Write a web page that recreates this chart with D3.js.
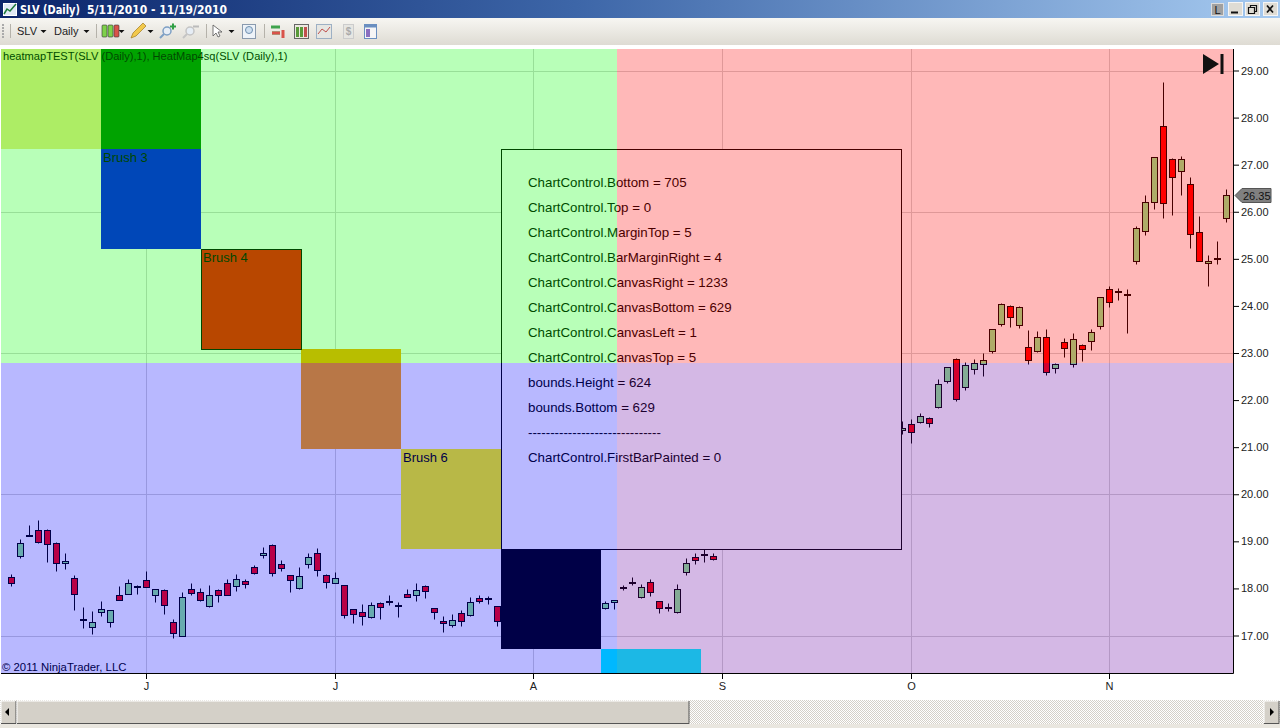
<!DOCTYPE html>
<html><head><meta charset="utf-8">
<script src="https://cdn.jsdelivr.net/npm/d3@7"></script>
<style>
html,body{margin:0;padding:0;background:#fff;overflow:hidden}
svg{display:block}
text{font-family:"Liberation Sans",Arial,sans-serif}
</style></head><body>
<svg id="c" width="1280" height="728" xmlns="http://www.w3.org/2000/svg"></svg>
<script>
// bar number of each visible candle (the others are covered by the panel and the black square)
const barIndex = [...d3.range(0,55), ...d3.range(66,79), ...d3.range(99,136)];
const opens = [18.25,18.69,19.14,19.24,19.24,18.97,18.54,18.22,17.35,17.18,17.50,17.28,17.86,17.88,18.05,18.18,17.86,17.97,17.29,16.99,17.99,17.93,17.62,17.97,18.12,18.05,18.16,18.46,18.71,18.93,18.52,18.29,18.01,18.52,18.76,18.29,18.11,18.08,17.57,17.50,17.39,17.69,17.73,17.64,17.89,17.86,18.05,17.59,17.31,17.22,17.48,17.43,17.80,17.79,17.63,
 17.59,17.72,18.03,18.13,17.81,18.14,17.74,17.60,17.50,18.35,18.67,18.73,18.69,
 21.37,21.50,21.54,21.62,21.86,22.40,22.88,22.28,22.66,22.77,23.04,23.62,24.00,23.60,23.13,23.04,23.34,22.68,23.24,22.77,23.17,23.26,23.58,24.36,24.31,24.26,24.96,25.60,26.20,27.83,27.12,26.87,26.59,25.57,24.92,25.01,25.87];
const highs = [18.30,19.04,19.34,19.46,19.27,18.99,18.76,18.29,17.61,17.52,17.74,17.55,18.06,18.20,18.08,18.36,17.99,17.99,17.34,17.93,18.12,18.01,18.08,17.99,18.20,18.31,18.20,18.50,18.89,18.95,18.61,18.29,18.46,18.76,18.86,18.31,18.34,18.08,17.57,17.66,17.72,17.72,17.86,17.72,17.98,18.12,18.08,17.59,17.42,17.45,17.55,17.82,17.86,17.84,17.63,
 17.74,17.76,18.08,18.25,18.10,18.20,17.74,17.69,18.10,18.65,18.76,18.84,18.76,
 21.55,21.59,21.73,21.65,22.44,22.71,22.90,22.81,22.88,23.00,23.51,24.07,24.02,24.00,23.49,23.46,23.51,22.79,23.32,23.43,23.20,23.51,24.19,24.43,24.38,24.36,25.69,26.36,27.17,28.75,27.15,27.19,26.74,25.92,25.09,25.37,26.49];
const lows = [18.05,18.64,19.11,18.97,18.57,18.37,18.42,17.55,17.16,17.04,17.41,17.18,17.75,17.88,17.88,18.02,17.71,17.45,16.94,16.98,17.86,17.73,17.60,17.71,17.86,17.94,18.01,18.30,18.64,18.27,18.36,17.93,17.99,18.44,18.26,18.01,18.11,17.37,17.26,17.23,17.37,17.34,17.64,17.40,17.81,17.74,17.79,17.36,17.07,17.18,17.21,17.41,17.69,17.66,17.21,
 17.57,17.57,17.96,18.07,17.80,17.84,17.47,17.51,17.48,18.28,18.51,18.56,18.60,
 21.28,21.08,21.52,21.42,21.83,22.36,21.98,22.21,22.55,22.51,23.00,23.57,23.55,23.53,22.76,23.02,22.53,22.57,22.91,22.70,22.84,23.06,23.52,23.97,24.12,23.42,24.89,25.50,26.05,25.86,25.93,26.35,25.23,24.95,24.43,24.89,25.79];
const closes = [18.12,18.97,19.12,18.98,18.95,18.54,18.59,17.88,17.35,17.29,17.57,17.54,17.75,18.12,18.05,18.03,17.99,17.64,17.06,17.82,17.90,17.75,17.86,17.86,17.86,18.20,18.09,18.33,18.76,18.33,18.43,18.18,18.27,18.67,18.39,18.14,18.22,17.43,17.46,17.41,17.65,17.60,17.73,17.64,17.81,17.97,17.94,17.50,17.27,17.33,17.30,17.72,17.73,17.79,17.30,
 17.69,17.76,18.03,18.13,18.03,17.93,17.59,17.60,17.99,18.54,18.60,18.73,18.62,
 21.41,21.33,21.67,21.52,22.35,22.71,22.03,22.75,22.79,22.86,23.51,24.04,23.77,23.98,22.85,23.34,22.60,22.77,23.10,23.30,23.08,23.45,24.19,24.09,24.31,24.26,25.65,26.20,27.17,26.18,26.74,27.12,25.53,24.96,24.96,25.01,26.36];
const lastPrice = 26.35;
const priceTicks = d3.range(17,30);
const gridPrices = [17,20,23,26,29];
const monthBars = [15,36,58,79,100,122];
const monthLabels = ["J","J","A","S","O","N"];
const brushNames = {2:"Brush 3",3:"Brush 4",5:"Brush 6"};
const brushFills = ["#f0e68c","#008000","#0000ff","#ff0000","#ffa500","#ffff00","#000000","#00ffff"];
const brushCols = [0,1,1,2,3,4,5,6];
const brushRows = [0,0,1,2,3,4,5,6];
const panelLines = ["ChartControl.Bottom = 705","ChartControl.Top = 0","ChartControl.MarginTop = 5","ChartControl.BarMarginRight = 4","ChartControl.CanvasRight = 1233","ChartControl.CanvasBottom = 629","ChartControl.CanvasLeft = 1","ChartControl.CanvasTop = 5","bounds.Height = 624","bounds.Bottom = 629","------------------------------","ChartControl.FirstBarPainted = 0"];

const svg = d3.select("#c");
const defs = svg.append("defs");
const tg = defs.append("linearGradient").attr("id","tb");
[["0","#0a246a"],["0.45","#3d66a8"],["1","#a6caf0"]].forEach(s=>tg.append("stop").attr("offset",s[0]).attr("stop-color",s[1]));
const bg = defs.append("linearGradient").attr("id","tool").attr("x2",0).attr("y2",1);
[["0","#f7f6f2"],["1","#dedbd3"]].forEach(s=>bg.append("stop").attr("offset",s[0]).attr("stop-color",s[1]));
const pt = defs.append("pattern").attr("id","dots").attr("width",2).attr("height",2).attr("patternUnits","userSpaceOnUse");
pt.append("rect").attr("width",2).attr("height",2).attr("fill","#ffffff");
pt.append("rect").attr("width",1).attr("height",1).attr("fill","#d4d0c8");
pt.append("rect").attr("x",1).attr("y",1).attr("width",1).attr("height",1).attr("fill","#d4d0c8");
defs.append("clipPath").attr("id","plot").append("rect").attr("x",1).attr("y",49).attr("width",1232).attr("height",624);

const x = d3.scaleLinear().domain([0,135]).range([11.5,1226.5]);
const y = d3.scaleLinear().domain([17,29]).range([635.5,70.5]);
const sx = d3.scaleLinear().domain([0,1]).range([1,101]);
const sy = d3.scaleLinear().domain([0,1]).range([49,149]);
const py = v => Math.round(y(v))+0.5;

// window chrome
svg.append("rect").attr("width",1280).attr("height",18).attr("fill","url(#tb)");
svg.append("rect").attr("y",18).attr("width",1280).attr("height",27).attr("fill","url(#tool)");
svg.append("rect").attr("x",3.5).attr("y",3.5).attr("width",13).attr("height",12).attr("fill","#dfe8f5").attr("stroke","#fff");
svg.append("path").attr("d","M4 14L7 9L10 11L16 4").attr("fill","none").attr("stroke","#1d7a3a").attr("stroke-width",1.5);
svg.append("text").attr("x",20).attr("y",14).attr("fill","#fff").attr("font-weight","bold").attr("font-size",12).style("font-family",'"DejaVu Sans"').attr("textLength",60).attr("lengthAdjust","spacingAndGlyphs").text("SLV (Daily)");
svg.append("text").attr("x",87).attr("y",14).attr("fill","#fff").attr("font-weight","bold").attr("font-size",12).style("font-family",'"DejaVu Sans"').attr("textLength",140).attr("lengthAdjust","spacingAndGlyphs").text("5/11/2010 - 11/19/2010");
// window buttons
svg.append("rect").attr("x",1211.5).attr("y",3.5).attr("width",12).attr("height",12).attr("fill","#a0a0a0").attr("stroke","#ddd");
svg.append("text").attr("x",1217.5).attr("y",14).attr("text-anchor","middle").attr("font-size",11).attr("fill","#111").text("L");
[1228,1245,1263].forEach(px=>svg.append("rect").attr("x",px+.5).attr("y",2.5).attr("width",14).attr("height",13).attr("fill","#dfdcd4").attr("stroke","#f5f5f5"));
svg.append("path").attr("d","M1231 12.5h7").attr("stroke","#111").attr("stroke-width",2);
svg.append("path").attr("d","M1248.5 7.5h6v6h-6zM1250.5 7.5v-2h6v6h-2").attr("fill","none").attr("stroke","#111").attr("stroke-width",1.2);
svg.append("path").attr("d","M1267 5.5l6 7M1273 5.5l-6 7").attr("stroke","#111").attr("stroke-width",1.7);
// toolbar
[[17,"SLV"],[54,"Daily"]].forEach(t=>svg.append("text").attr("x",t[0]).attr("y",35).attr("font-size",11).attr("fill","#222").text(t[1]));
[43,86,121,150,231].forEach(px=>svg.append("path").attr("d",`M${px-2.5} 30h6l-3 3z`).attr("fill","#111"));
[10,96,206,264].forEach(px=>svg.append("line").attr("x1",px+.5).attr("x2",px+.5).attr("y1",24).attr("y2",38).attr("stroke","#b5b2aa"));
svg.append("path").attr("d","M3 24v14").attr("stroke","#aaa").attr("stroke-width",2).attr("stroke-dasharray","2 1");
[[102,"#7ed14a"],[108,"#7ed14a"],[114,"#d9534a"]].forEach(c=>svg.append("rect").attr("x",c[0]).attr("y",25).attr("width",5).attr("height",12).attr("rx",1).attr("fill",c[1]).attr("stroke","#333").attr("stroke-width",.6));
svg.append("path").attr("d","M131 38l2-5 10-10 3 3-10 10z").attr("fill","#f2c94c").attr("stroke","#a07a20").attr("stroke-width",.7);
[[167,"#7d9fc4"],[190,"#c4c4c4"]].forEach(c=>{svg.append("circle").attr("cx",c[0]).attr("cy",31).attr("r",4).attr("fill","#e6edf5").attr("stroke",c[1]).attr("stroke-width",1.5);
  svg.append("line").attr("x1",c[0]-3).attr("y1",34).attr("x2",c[0]-7).attr("y2",38).attr("stroke",c[1]).attr("stroke-width",2);});
svg.append("path").attr("d","M170 26.5h6M173 23.5v6").attr("stroke","#2f9e44").attr("stroke-width",2);
svg.append("path").attr("d","M193 26.5h6").attr("stroke","#bbb").attr("stroke-width",2);
svg.append("path").attr("d","M213 25v11l3-3 2 4 2-1-2-4h4z").attr("fill","#fff").attr("stroke","#555").attr("stroke-width",.8);
svg.append("rect").attr("x",242.5).attr("y",24.5).attr("width",13).attr("height",14).attr("fill","#eef3f8").attr("stroke","#8a9aae");
svg.append("circle").attr("cx",249).attr("cy",30).attr("r",3.5).attr("fill","#cfe0f0").attr("stroke","#6f8faf");
svg.append("rect").attr("x",294.5).attr("y",24.5).attr("width",14).attr("height",14).attr("fill","#ece9e0").attr("stroke","#666");
svg.append("rect").attr("x",316.5).attr("y",24.5).attr("width",15).attr("height",14).attr("fill","#e6e6e2").attr("stroke","#9db0c4");
svg.append("rect").attr("x",343.5).attr("y",24.5).attr("width",10).attr("height",14).attr("fill","#e6e6e2").attr("stroke","#ccc");
svg.append("text").attr("x",348.5).attr("y",35).attr("text-anchor","middle").attr("font-size",10).attr("font-weight","bold").attr("fill","#aaa").text("$");
svg.append("rect").attr("x",364.5).attr("y",24.5).attr("width",12).attr("height",14).attr("fill","#f5f5f5").attr("stroke","#6a8fc0");
svg.append("rect").attr("x",364.5).attr("y",24.5).attr("width",12).attr("height",3).attr("fill","#6a8fc0");
svg.append("path").attr("d","M271 27h9M272 33h8").attr("stroke","#3fa34d").attr("stroke-width",3);
svg.append("path").attr("d","M272 33h8").attr("stroke","#d9534a").attr("stroke-width",3);
svg.append("path").attr("d","M283 30v8").attr("stroke","#d9534a").attr("stroke-width",3);
svg.append("path").attr("d","M297.5 27v10M301.5 27v10").attr("stroke","#5a9a3a").attr("stroke-width",3);
svg.append("path").attr("d","M305.5 27v10").attr("stroke","#c0504d").attr("stroke-width",3);
svg.append("path").attr("d","M318 34l4-5 4 3 4-5").attr("stroke","#c0504d").attr("fill","none");
svg.append("rect").attr("x",366).attr("y",29).attr("width",4).attr("height",8).attr("fill","#8a6fc0");

// chart canvas
const plot = svg.append("g").attr("clip-path","url(#plot)");
plot.append("rect").attr("x",1).attr("y",49).attr("width",1232).attr("height",624).attr("fill","#fff");
const grid = plot.append("g").attr("stroke","#d3d3d3").attr("stroke-width",1);
grid.selectAll(".h").data(gridPrices).join("line").attr("x1",1).attr("x2",1233).attr("y1",py).attr("y2",py);
grid.selectAll(".v").data(monthBars).join("line").attr("x1",x).attr("x2",x).attr("y1",49).attr("y2",673);

// candles
const bars = barIndex.map((b,i)=>({b,o:opens[i],h:highs[i],l:lows[i],c:closes[i]}));
const cg = plot.append("g").selectAll("g").data(bars).join("g");
cg.append("line").attr("x1",d=>x(d.b)).attr("x2",d=>x(d.b)).attr("y1",d=>py(d.h)).attr("y2",d=>py(d.l)).attr("stroke","#000");
cg.append("rect").attr("x",d=>x(d.b)-3).attr("width",6)
  .attr("y",d=>py(Math.max(d.o,d.c)))
  .attr("height",d=>Math.max(1,py(Math.min(d.o,d.c))-py(Math.max(d.o,d.c))))
  .attr("fill",d=>d.c>d.o?"#90ee90":(d.c<d.o?"#ff0000":"#000"))
  .attr("stroke","#000").attr("stroke-width",1);

// panel and brush squares, all painted beneath the translucent quadrants
plot.append("rect").attr("x",501).attr("y",149).attr("width",401).attr("height",401).attr("fill","#fff");
plot.append("g").selectAll("rect").data(brushFills).join("rect")
  .attr("x",(d,i)=>sx(brushCols[i])).attr("y",(d,i)=>sy(brushRows[i]))
  .attr("width",100).attr("height",100).attr("fill",d=>d);
plot.append("rect").attr("x",201.5).attr("y",249.5).attr("width",100).attr("height",100).attr("fill","none").attr("stroke","#000");
plot.append("rect").attr("x",501.5).attr("y",149.5).attr("width",400).attr("height",400).attr("fill","none").attr("stroke","#000");
plot.selectAll(".brush").data(Object.keys(brushNames)).join("text")
  .attr("x",k=>sx(brushCols[k])+2).attr("y",k=>sy(brushRows[k])+13).attr("font-size",13).attr("fill","#000").text(k=>brushNames[k]);
plot.selectAll(".pl").data(panelLines).join("text").attr("x",528).attr("y",(d,i)=>187+i*25).attr("font-size",13.3).attr("fill","#000").text(d=>d);
plot.append("text").attr("x",3).attr("y",60).attr("font-size",11.1).attr("fill","#000").text("heatmapTEST(SLV (Daily),1), HeatMap4sq(SLV (Daily),1)");
plot.append("text").attr("x",2).attr("y",671).attr("font-size",11.35).attr("fill","#000").text("© 2011 NinjaTrader, LLC");

// translucent quadrants
[[1,49,616,314,"0,255,0"],[617,49,616,314,"255,0,0"],[1,363,616,310,"0,0,255"],[617,363,616,310,"100,0,160"]].forEach(q=>
  plot.append("rect").attr("x",q[0]).attr("y",q[1]).attr("width",q[2]).attr("height",q[3]).attr("fill",`rgba(${q[4]},0.28)`));

// end-of-chart marker
plot.append("path").attr("d","M1203 54v20l16-10zM1220.5 54h3v20h-3z").attr("fill","#111");

// axes
const yAxis = svg.append("g").attr("transform","translate(1233,0)").call(d3.axisRight(y).tickValues(priceTicks).tickSize(6).tickPadding(2).tickFormat(d3.format(".2f")));
yAxis.select(".domain").attr("d","M0.5 49V673.5");
yAxis.selectAll("text").attr("font-size",11).attr("fill","#222").style("font-family",'"Liberation Sans",Arial,sans-serif');
const xAxis = svg.append("g").attr("transform","translate(0,673)").call(d3.axisBottom(x).offset(0).tickValues(monthBars).tickSize(6).tickPadding(3).tickFormat((d,i)=>monthLabels[i]));
xAxis.select(".domain").attr("d","M1 0.5H1233.5");
xAxis.selectAll("text").attr("font-size",11).attr("fill","#222").style("font-family",'"Liberation Sans",Arial,sans-serif');

// last price flag
const ly = py(lastPrice);
svg.append("path").attr("d",`M1235 ${ly}l7-7h29v14h-29z`).attr("fill","#808080").attr("stroke","#555");
svg.append("text").attr("x",1243).attr("y",ly+4).attr("font-size",11).attr("fill","#111").text(lastPrice.toFixed(2));

// scrollbar
svg.append("rect").attr("y",700).attr("width",1280).attr("height",28).attr("fill","#e9e6df");
svg.append("rect").attr("y",700).attr("width",1280).attr("height",24).attr("fill","url(#dots)");
[[1,15],[17,672],[1264,15]].forEach(s=>{
  svg.append("rect").attr("x",s[0]).attr("y",701).attr("width",s[1]).attr("height",22).attr("fill","#d4d0c8");
  svg.append("path").attr("d",`M${s[0]} 723V701H${s[0]+s[1]}`).attr("fill","none").attr("stroke","#fff");
  svg.append("path").attr("d",`M${s[0]} 723.5H${s[0]+s[1]}V701`).attr("fill","none").attr("stroke","#555");
});
svg.append("path").attr("d","M5 712l4-4v8z").attr("fill","#000");
svg.append("path").attr("d","M1274 712l-4-4v8z").attr("fill","#000");
</script>
</body></html>
